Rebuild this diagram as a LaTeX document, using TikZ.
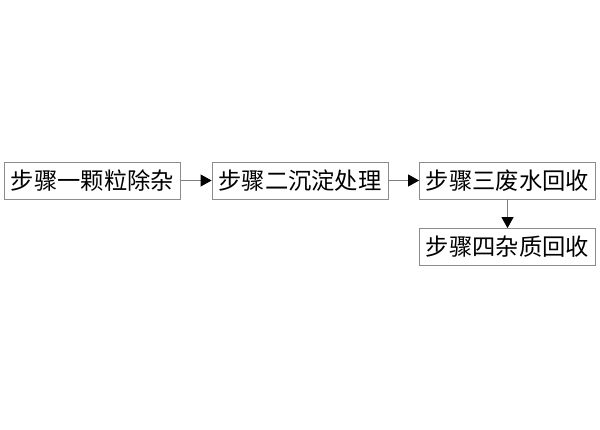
\documentclass[tikz,border=0pt]{standalone}
\usepackage{fontspec}
\newfontfamily\cjk{Noto Sans CJK SC}
\usetikzlibrary{arrows.meta,positioning}

\begin{document}
\begin{tikzpicture}[x=1bp,y=1bp,auto]
\tikzstyle{block} = [rectangle, draw=gray!90, line width=0.8bp, fill=white,
minimum width=176bp, minimum height=37bp, inner sep=0pt,
font=\cjk\fontsize{23.3bp}{26bp}\selectfont, text centered]
\tikzstyle{line} = [draw=gray, line width=0.8bp,
-{Triangle[black,length=11bp,width=12bp]}]
\useasboundingbox (0,0) rectangle (600,429);
% row 1
\node [block] (removal) at (92.5,248.5) {步骤一颗粒除杂};
\node [block] (settle) at (300,248.5) {步骤二沉淀处理};
\node [block] (water) at (507.5,248.5) {步骤三废水回收};
% row 2
\node [block] (residue) at (507.5,182) {步骤四杂质回收};
\path [line] (removal) -- (settle);
\path [line] (settle) -- (water);
\path [line] (water) -- (residue);
\end{tikzpicture}
\end{document}
